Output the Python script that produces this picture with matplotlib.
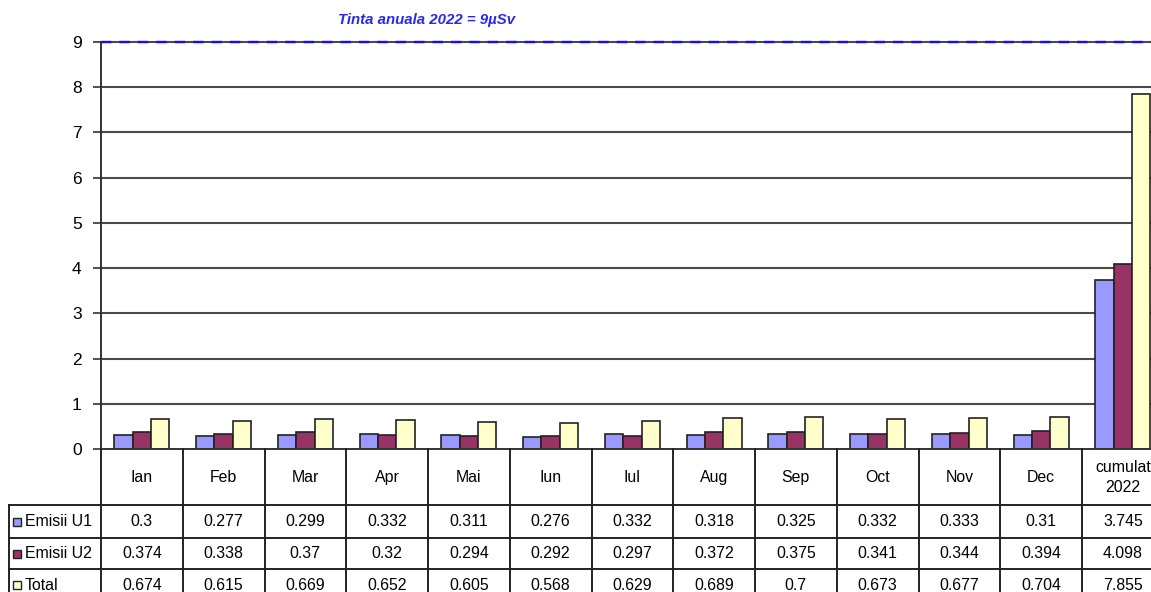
import matplotlib
matplotlib.use("Agg")
import matplotlib.pyplot as plt
from matplotlib.transforms import blended_transform_factory
from matplotlib.patches import Rectangle
import numpy as np

plt.rcParams['font.family'] = ['Liberation Sans', 'DejaVu Sans']

categories = ["Ian", "Feb", "Mar", "Apr", "Mai", "Iun", "Iul", "Aug", "Sep",
              "Oct", "Nov", "Dec", "cumulat\n2022"]
series_names = ["Emisii U1", "Emisii U2", "Total"]
emisii_u1 = [0.3, 0.277, 0.299, 0.332, 0.311, 0.276, 0.332, 0.318, 0.325, 0.332, 0.333, 0.31, 3.745]
emisii_u2 = [0.374, 0.338, 0.37, 0.32, 0.294, 0.292, 0.297, 0.372, 0.375, 0.341, 0.344, 0.394, 4.098]
total = [0.674, 0.615, 0.669, 0.652, 0.605, 0.568, 0.629, 0.689, 0.7, 0.673, 0.677, 0.704, 7.855]
target = 9
target_label = "Tinta anuala 2022 = 9\u00b5Sv"
yticks = list(range(0, 10))

colors = ["#9999FF", "#993366", "#FFFFCC"]
series = [emisii_u1, emisii_u2, total]

W, H = 1151, 592
fig = plt.figure(figsize=(W / 100, H / 100), dpi=100)
fig.patch.set_facecolor("white")

# main plot axes (extends slightly beyond right edge as in the reference)
x0, y0_px, ytop_px, col_w = 101, 449, 42, 81.75
n = len(categories)
ax = fig.add_axes([x0 / W, (H - y0_px) / H, n * col_w / W, (y0_px - ytop_px) / H])
ax.set_xlim(0, n)
ax.set_ylim(0, target)
ax.set_facecolor("white")

for yv in yticks[1:]:
    ax.axhline(yv, color="#4a4a4a", lw=1.5, zorder=1, clip_on=False)
ax.axhline(target, color="#1010f0", lw=1.7, ls=(0, (4.4, 3.4)), zorder=3,
           clip_on=False)

bw = 0.225
xc = np.arange(n) + 0.5
for k, (vals, c) in enumerate(zip(series, colors)):
    ax.bar(xc + (k - 1) * bw, vals, width=bw, color=c, edgecolor="#222222",
           lw=1.2, zorder=2)

ax.set_yticks(yticks)
ax.set_yticklabels([str(v) for v in yticks], fontsize=12.5)
ax.tick_params(axis="y", length=6, width=1.2, color="#333333", pad=8)
ax.set_xticks([])
for s in ["top", "right", "bottom"]:
    ax.spines[s].set_visible(False)
ax.spines["left"].set_color("#333333")
ax.spines["left"].set_linewidth(1.4)
ax.axhline(0, color="#333333", lw=1.4, zorder=4, clip_on=False)

ax.text(3.98, 9.0 + 21.5 / 45.2, target_label, color="#2a2aee", style="italic",
        fontweight="bold", fontsize=10.8, ha="center", va="center")

# table overlay
axt = fig.add_axes([0, 0, 1, 1])
axt.set_xlim(0, W)
axt.set_ylim(H, 0)
axt.axis("off")
tr = blended_transform_factory(ax.transData, axt.transData)

row_edges = [449, 505, 538, 569, 600]
lc = "#222222"
lw = 1.4
hdr_left = 9
# horizontal lines
for yb in row_edges[1:]:
    axt.plot([hdr_left, x0 + n * col_w], [yb, yb], color=lc, lw=lw, clip_on=False)
# vertical lines
for i in range(n + 1):
    axt.plot([i, i], [row_edges[0], row_edges[-1]], color=lc, lw=lw,
             transform=tr, clip_on=False)
axt.plot([hdr_left, hdr_left], [row_edges[1], row_edges[-1]], color=lc, lw=lw)

fs = 11.4
for i, cat in enumerate(categories):
    axt.text(i + 0.5, (row_edges[0] + row_edges[1]) / 2 + 0.5, cat, transform=tr,
             ha="center", va="center", fontsize=fs, linespacing=1.45)

for r, (name, vals, c) in enumerate(zip(series_names, series, colors)):
    yc = (row_edges[r + 1] + row_edges[r + 2]) / 2
    axt.add_patch(Rectangle((13, yc - 4), 8, 8, facecolor=c, edgecolor="#222222", lw=1))
    axt.text(25, yc + 0.5, name, ha="left", va="center", fontsize=fs)
    for i, v in enumerate(vals):
        axt.text(i + 0.5, yc + 0.5, f"{v:g}", transform=tr, ha="center",
                 va="center", fontsize=fs)

fig.savefig("out.png", dpi=100)
